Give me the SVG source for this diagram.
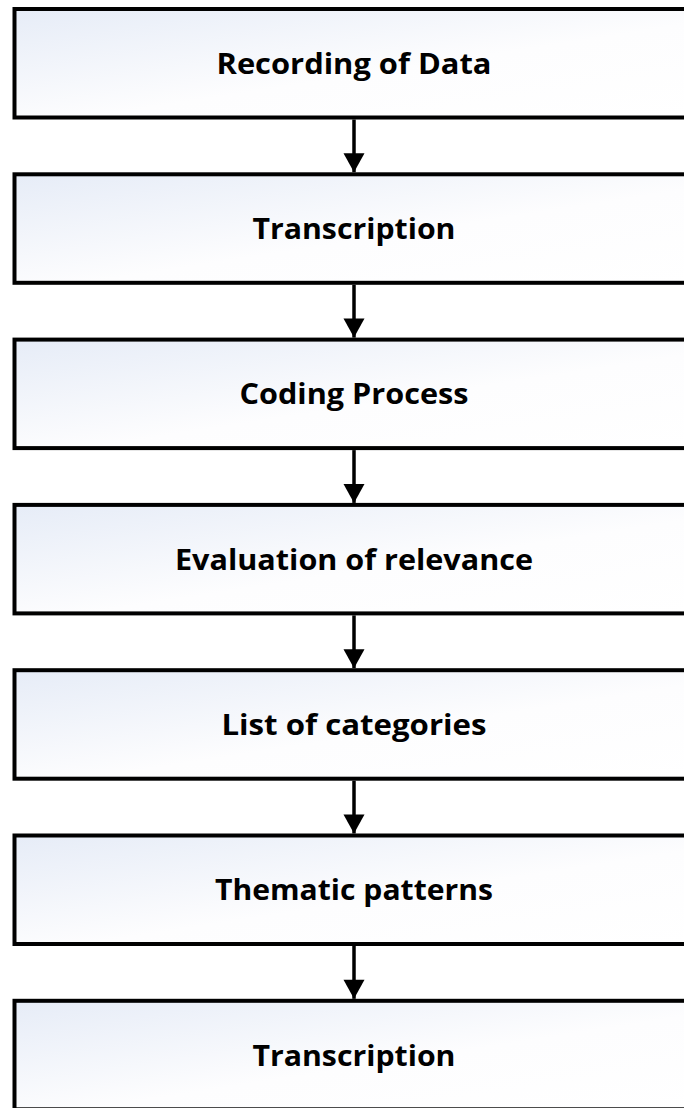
<svg xmlns="http://www.w3.org/2000/svg" width="684" height="1108" viewBox="0 0 684 1108">
  <defs>
    <linearGradient id="boxFill" x1="0" y1="0" x2="1" y2="1">
      <stop offset="0" stop-color="#e6ecf7"/>
      <stop offset="0.55" stop-color="#fdfdfe"/>
      <stop offset="1" stop-color="#ffffff"/>
    </linearGradient>
  </defs>
  <style>
    .box { fill: url(#boxFill); stroke: #000; stroke-width: 4; }
    .label { font-family: "Open Sans", "Liberation Sans", sans-serif; font-weight: 700; font-size: 29px; fill: #000; text-anchor: middle; }
    .link { stroke: #000; stroke-width: 3.5; fill: none; }
    .head { fill: #000; }
  </style>

  <rect width="684" height="1108" fill="#ffffff"/>

  <!-- vertical connectors with solid arrowheads touching the next box -->
  <g id="connectors">
    <line class="link" x1="354" y1="119.5" x2="354" y2="172.3"/>
    <path class="head" d="M343.5,153.3 L364.5,153.3 L354,172.3 Z"/>
    <line class="link" x1="354" y1="284.8" x2="354" y2="337.6"/>
    <path class="head" d="M343.5,318.6 L364.5,318.6 L354,337.6 Z"/>
    <line class="link" x1="354" y1="450.1" x2="354" y2="502.9"/>
    <path class="head" d="M343.5,483.9 L364.5,483.9 L354,502.9 Z"/>
    <line class="link" x1="354" y1="615.4" x2="354" y2="668.2"/>
    <path class="head" d="M343.5,649.2 L364.5,649.2 L354,668.2 Z"/>
    <line class="link" x1="354" y1="780.7" x2="354" y2="833.5"/>
    <path class="head" d="M343.5,814.5 L364.5,814.5 L354,833.5 Z"/>
    <line class="link" x1="354" y1="946" x2="354" y2="998.8"/>
    <path class="head" d="M343.5,979.8 L364.5,979.8 L354,998.8 Z"/>
  </g>

  <g id="step1">
    <rect class="box" x="14.5" y="9" width="700" height="108.5"/>
    <text class="label" x="354" y="73.8" textLength="275" lengthAdjust="spacingAndGlyphs">Recording of Data</text>
  </g>
  <g id="step2">
    <rect class="box" x="14.5" y="174.3" width="700" height="108.5"/>
    <text class="label" x="354" y="239.1" textLength="203" lengthAdjust="spacingAndGlyphs">Transcription</text>
  </g>
  <g id="step3">
    <rect class="box" x="14.5" y="339.6" width="700" height="108.5"/>
    <text class="label" x="354" y="404.4" textLength="229" lengthAdjust="spacingAndGlyphs">Coding Process</text>
  </g>
  <g id="step4">
    <rect class="box" x="14.5" y="504.9" width="700" height="108.5"/>
    <text class="label" x="354" y="569.7" textLength="358" lengthAdjust="spacingAndGlyphs">Evaluation of relevance</text>
  </g>
  <g id="step5">
    <rect class="box" x="14.5" y="670.2" width="700" height="108.5"/>
    <text class="label" x="354" y="735" textLength="265" lengthAdjust="spacingAndGlyphs">List of categories</text>
  </g>
  <g id="step6">
    <rect class="box" x="14.5" y="835.5" width="700" height="108.5"/>
    <text class="label" x="354" y="900.3" textLength="278" lengthAdjust="spacingAndGlyphs">Thematic patterns</text>
  </g>
  <g id="step7">
    <rect class="box" x="14.5" y="1000.8" width="700" height="108.5"/>
    <text class="label" x="354" y="1065.6" textLength="203" lengthAdjust="spacingAndGlyphs">Transcription</text>
  </g>
</svg>
